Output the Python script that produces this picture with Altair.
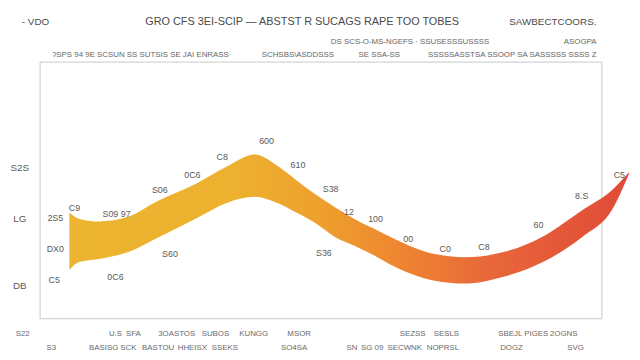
import altair as alt
import pandas as pd

# ---- band data (x in 0..100 plot units, y in 0..100 plot units)
x_pos = [5.3, 7.0, 10.5, 15.8, 21.1, 28.1, 33.4, 38.3, 42.2, 45.7, 49.2, 52.7,
         56.2, 59.8, 63.3, 70.3, 75.6, 82.6, 89.6, 96.7, 101.9, 104.9]
upper = [41.2, 38.8, 37.7, 39.6, 45.8, 52.7, 59.2, 63.8, 59.6, 53.8, 48.1, 43.1,
         38.5, 34.6, 30.8, 25.0, 23.8, 25.8, 31.9, 42.3, 50.0, 56.9]
lower = [18.8, 21.9, 23.1, 25.8, 31.5, 39.2, 45.0, 47.3, 45.0, 41.2, 36.9, 31.5,
         28.1, 24.2, 20.0, 14.6, 13.5, 16.2, 21.9, 31.9, 42.3, 56.2]

# ---- point labels around the band
pt_labels = ["C9", "2S5", "S09 97", "S06", "0C6", "C8", "600", "610", "DX0", "S60",
             "C5", "0C6", "S38", "·12", "100", "S36", "00", "C0", "C8", "60", "8.S", "C5"]
pt_x = [6.2, 2.8, 13.7, 21.4, 27.2, 32.5, 40.4, 46.0, 2.8, 23.2,
        2.6, 13.5, 51.8, 54.8, 59.8, 50.6, 65.6, 72.2, 79.1, 88.8, 96.5, 103.2]
pt_y = [43.1, 39.2, 40.8, 50.0, 55.8, 62.7, 69.2, 59.6, 26.9, 25.0,
        15.0, 16.2, 50.4, 41.5, 38.8, 25.4, 30.8, 26.9, 27.7, 36.5, 47.7, 55.8]

# ---- y tick labels
ytick_labels = ["S2S", "LG", "DB"]
ytick_vals = [58.5, 38.5, 12.7]

# ---- x tick labels (two rows)
row1_labels = ["S22", "U.S", "SFA", "3OASTOS", "SUBOS", "KUNGG", "MSOR",
               "SEZSS", "SESLS", "SBEJL", "PIGES", "2OGNS"]
row1_x = [-3.0, 13.5, 16.7, 24.4, 31.3, 38.1, 46.2, 66.4, 72.4, 83.8, 88.4, 93.3]
row2_labels = ["S3", "BASISG", "SCK", "BASTOU", "HHEISX", "SSEKS", "SO4SA",
               "SN", "SG 09", "SECWNK", "NOPRSL", "DOGZ", "SVG"]
row2_x = [2.1, 11.4, 15.8, 21.1, 27.2, 33.0, 45.3, 55.6, 59.2, 65.0, 71.8, 84.0, 95.4]

# ---- header texts
head_text = ["-  VDO",
             "GRO  CFS 3EI-SCIP — ABSTST R  SUCAGS RAPE  TOO  TOBES",
             "SAWBECTCOORS.",
             "DS  SCS-O-MS-NGEFS · SSUSESSSUSSSS",
             "ASOGPA",
             "ʔSPS 94 9E SCSUN SS SUTSIS SE JAI ENRASS·",
             "SCHSBS\\ASDDSSS",
             "SE SSA-SS",
             "SSSSSASSTSA  SSOOP  SA SASSSSS  SSSS  Z"]
head_px = [-18, 107, 564, 295, 564, 13, 225, 323, 564]
head_py = [-40, -40, -40, -20, -20, -7, -7, -7, -7]
head_align = ["left", "left", "right", "left", "right", "left", "left", "left", "right"]
head_size = [10, 11, 10, 8, 8, 8, 8, 8, 8]

band = pd.DataFrame({"x": x_pos, "top": upper, "bottom": lower})
pts = pd.DataFrame({"x": pt_x, "y": pt_y, "label": pt_labels})
yt = pd.DataFrame({"y": ytick_vals, "label": ytick_labels})
r1 = pd.DataFrame({"x": row1_x, "label": row1_labels})
r2 = pd.DataFrame({"x": row2_x, "label": row2_labels})

xs = alt.Scale(domain=[0, 100], nice=False, zero=False)
ys = alt.Scale(domain=[0, 100], nice=False, zero=False)
FONT = "Liberation Sans"
GRAY = "#5a5a5a"

grad = alt.Gradient(
    gradient="linear",
    stops=[
        alt.GradientStop(color="#ECB531", offset=0),
        alt.GradientStop(color="#EDB02F", offset=0.30),
        alt.GradientStop(color="#EEA02D", offset=0.45),
        alt.GradientStop(color="#EE8431", offset=0.60),
        alt.GradientStop(color="#E8673A", offset=0.75),
        alt.GradientStop(color="#E04A38", offset=1),
    ],
    x1=0, x2=1, y1=0, y2=0,
)

area = alt.Chart(band).mark_area(color=grad, interpolate="monotone", clip=False).encode(
    x=alt.X("x:Q", scale=xs, axis=None),
    y=alt.Y("top:Q", scale=ys, axis=None),
    y2="bottom:Q",
)

ptxt = alt.Chart(pts).mark_text(font=FONT, fontSize=9, color=GRAY).encode(
    x=alt.X("x:Q", scale=xs, axis=None),
    y=alt.Y("y:Q", scale=ys, axis=None),
    text="label:N",
)

ytxt = alt.Chart(yt).mark_text(font=FONT, fontSize=10, color=GRAY).encode(
    x=alt.value(-20),
    y=alt.Y("y:Q", scale=ys, axis=None),
    text="label:N",
)

r1txt = alt.Chart(r1).mark_text(font=FONT, fontSize=8, color="#6a6a6a").encode(
    x=alt.X("x:Q", scale=xs, axis=None),
    y=alt.value(276),
    text="label:N",
)
r2txt = alt.Chart(r2).mark_text(font=FONT, fontSize=8, color="#6a6a6a").encode(
    x=alt.X("x:Q", scale=xs, axis=None),
    y=alt.value(290),
    text="label:N",
)

layers = [area, ptxt, ytxt, r1txt, r2txt]
for t, px, py, al, fs in zip(head_text, head_px, head_py, head_align, head_size):
    layers.append(
        alt.Chart(pd.DataFrame({"t": [t]})).mark_text(
            font=FONT, fontSize=fs, color="#4a4a4a" if fs >= 10 else "#666666", align=al
        ).encode(x=alt.value(px), y=alt.value(py), text="t:N")
    )

chart = alt.layer(*layers).properties(
    width=569,
    height=260,
    autosize=alt.AutoSizeParams(type="none"),
    padding={"left": 32, "top": 52, "right": 31, "bottom": 40},
    background="white",
).configure_view(stroke="#c8c8c8", strokeWidth=1)

chart.save("out.html", embed_options={"renderer": "svg", "actions": False})
